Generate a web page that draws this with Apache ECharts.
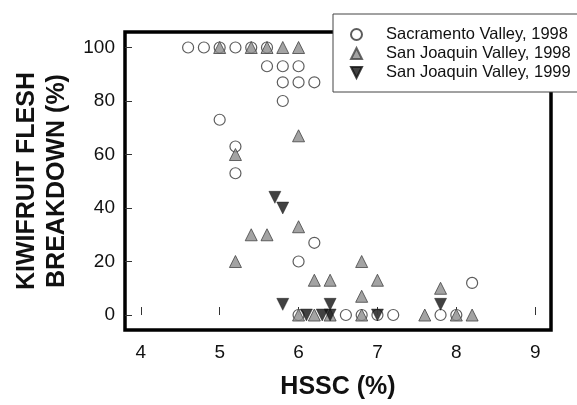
<!DOCTYPE html>
<html><head><meta charset="utf-8">
<script src="https://cdn.jsdelivr.net/npm/echarts@6/dist/echarts.min.js"></script>
<style>html,body{margin:0;padding:0;background:#fff}#c{width:577px;height:405px}</style>
</head><body><div id="c"></div>
<script>
const seriesNames = ['Sacramento Valley, 1998', 'San Joaquin Valley, 1998', 'San Joaquin Valley, 1999'];
const xTicks = [4, 5, 6, 7, 8, 9];
const yTicks = [0, 20, 40, 60, 80, 100];
const sacX = [4.6, 4.8, 5.0, 5.2, 5.4, 5.6, 5.6, 5.8, 6.0, 5.8, 6.0, 6.2, 5.8, 5.0, 5.2, 5.2, 6.2, 6.0, 8.2, 6.0, 6.6, 6.8, 7.0, 7.2, 7.8, 8.0];
const sacY = [100, 100, 100, 100, 100, 100, 93, 93, 93, 87, 87, 87, 80, 73, 63, 53, 27, 20, 12, 0, 0, 0, 0, 0, 0, 0];
const sj98X = [5.0, 5.4, 5.6, 5.8, 6.0, 6.0, 5.2, 6.0, 5.4, 5.6, 5.2, 6.8, 6.2, 6.4, 7.0, 7.8, 6.8, 6.0, 6.2, 6.4, 6.8, 7.6, 8.0, 8.2];
const sj98Y = [100, 100, 100, 100, 100, 67, 60, 33, 30, 30, 20, 20, 13, 13, 13, 10, 7, 0, 0, 0, 0, 0, 0, 0];
const sj99X = [5.7, 5.8, 5.8, 6.4, 7.8, 6.1, 6.3, 6.4, 7.0];
const sj99Y = [44, 40, 4, 4, 4, 0, 0, 0, 0];

const zip = (xs, ys) => xs.map((x, i) => [x, ys[i]]);
const FONT = '"Liberation Sans", Arial, sans-serif';

const chart = echarts.init(document.getElementById('c'), null, {renderer: 'canvas'});
chart.setOption({
  animation: false,
  backgroundColor: '#fff',
  grid: {left: 125, right: 26, top: 32, bottom: 73, show: true, borderColor: '#000', borderWidth: 3.5, backgroundColor: 'transparent'},
  legend: {
    orient: 'vertical', left: 333, top: 14,
    padding: [12, 12, 11, 17], itemGap: 2, itemWidth: 11, itemHeight: 11,
    backgroundColor: '#fff', borderColor: '#444', borderWidth: 1,
    textStyle: {fontFamily: FONT, fontSize: 16.5, color: '#111', padding: [0, 0, 0, 19]},
    data: seriesNames
  },
  xAxis: {
    type: 'value', min: 3.8, max: 9.2,
    name: 'HSSC (%)', nameLocation: 'middle', nameGap: 45,
    nameTextStyle: {fontFamily: FONT, fontSize: 25, fontWeight: 'bold', color: '#111'},
    axisLine: {show: false},
    axisTick: {show: true, inside: true, length: 8, customValues: xTicks, lineStyle: {color: '#333', width: 1}},
    axisLabel: {customValues: xTicks, fontFamily: FONT, fontSize: 19, color: '#111', margin: 13},
    splitLine: {show: false}
  },
  yAxis: {
    type: 'value', min: -5.6, max: 105.8,
    name: 'KIWIFRUIT FLESH\nBREAKDOWN (%)', nameLocation: 'middle', nameGap: 53, nameRotate: 90,
    nameTextStyle: {fontFamily: FONT, fontSize: 25, fontWeight: 'bold', color: '#111', lineHeight: 30},
    axisLine: {show: false},
    axisTick: {show: true, inside: true, length: 7, customValues: yTicks, lineStyle: {color: '#333', width: 1}},
    axisLabel: {customValues: yTicks, fontFamily: FONT, fontSize: 19, color: '#111', margin: 10},
    splitLine: {show: false}
  },
  series: [
    {name: seriesNames[0], type: 'scatter', data: zip(sacX, sacY), symbol: 'circle', symbolSize: 11,
     itemStyle: {color: '#fff', borderColor: '#333', borderWidth: 1.2}, z: 2},
    {name: seriesNames[1], type: 'scatter', data: zip(sj98X, sj98Y), symbol: 'triangle', symbolSize: 12,
     itemStyle: {color: '#8c8c8c', borderColor: '#444', borderWidth: 1}, z: 3},
    {name: seriesNames[2], type: 'scatter', data: zip(sj99X, sj99Y), symbol: 'path://M0,0 L10,0 L5,10 Z', symbolSize: 12,
     itemStyle: {color: '#111', borderColor: '#111', borderWidth: 0.5}, z: 4}
  ]
});
</script></body></html>
